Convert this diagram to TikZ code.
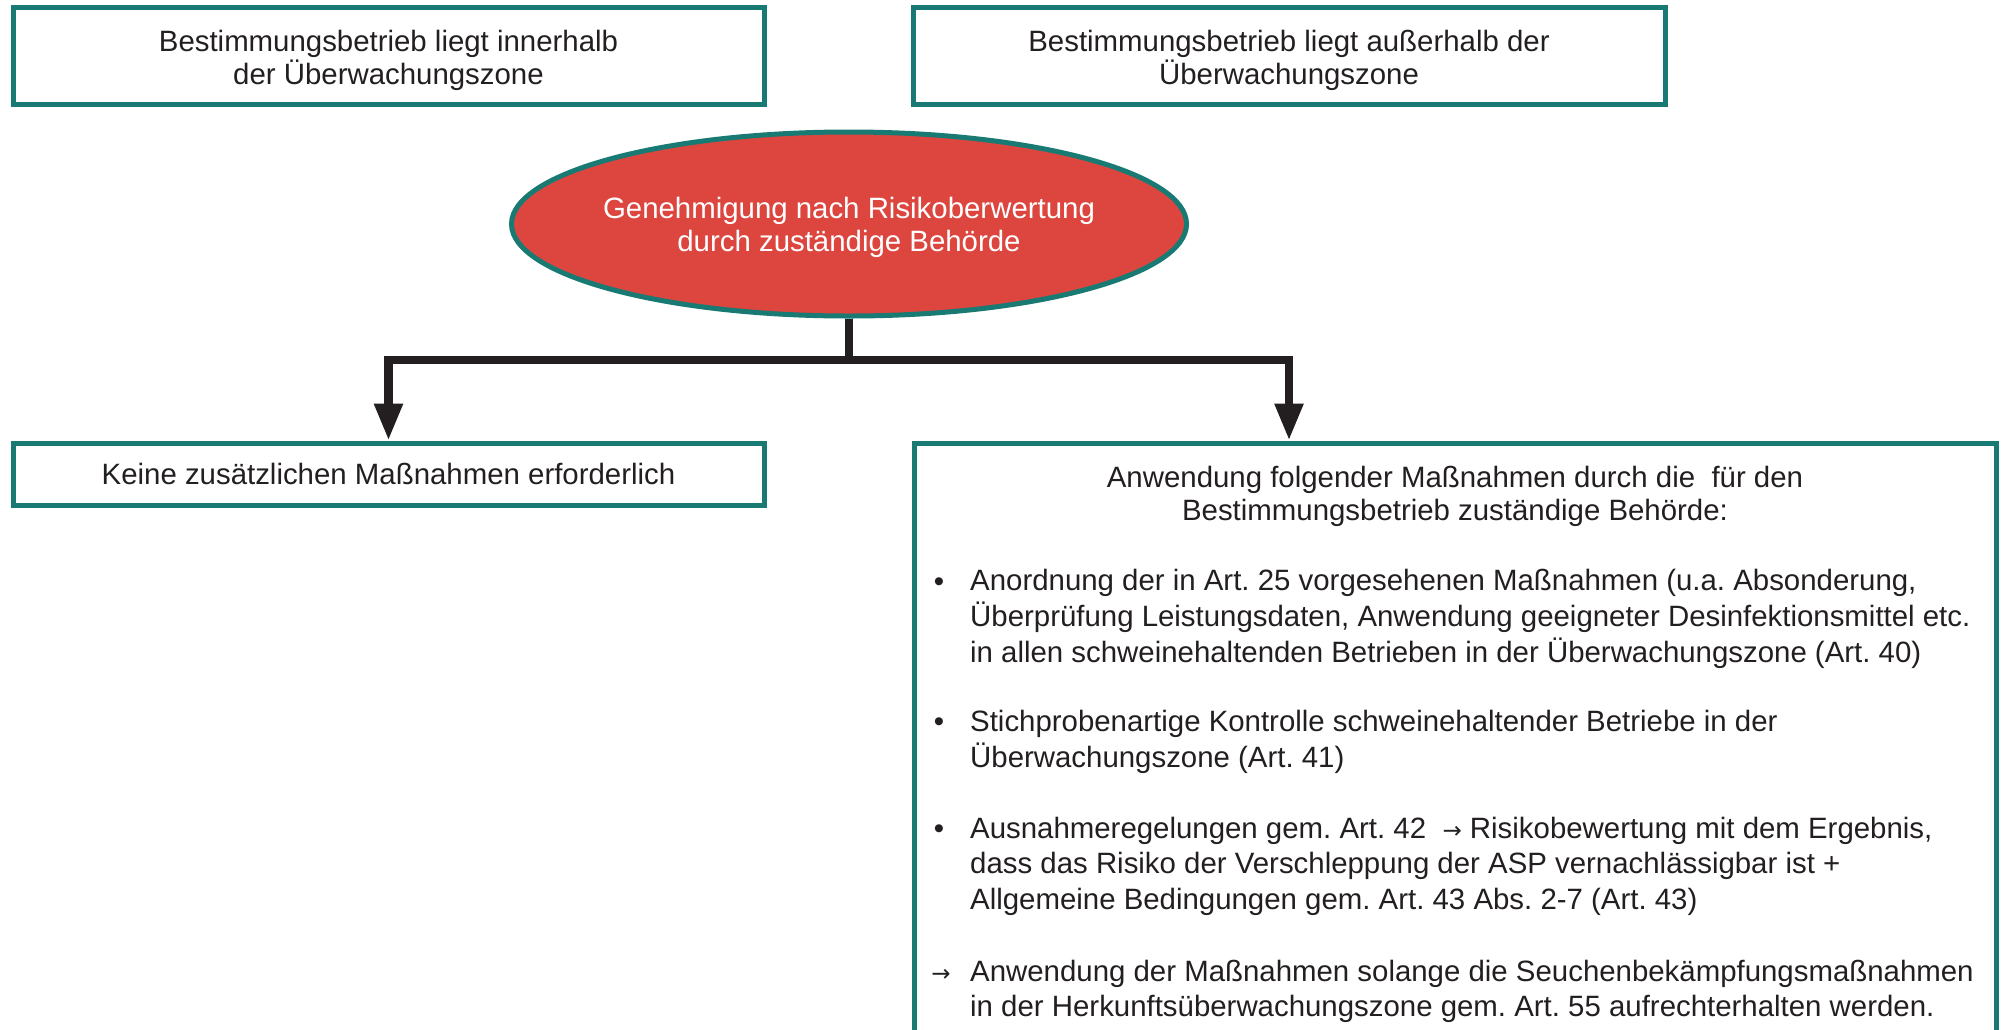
\documentclass[tikz,border=0pt]{standalone}
\usepackage{fontspec}
\setmainfont{Liberation Sans}
\newfontfamily\arrowfont{DejaVu Sans}
\usetikzlibrary{arrows.meta,shapes.geometric}
\definecolor{tealb}{RGB}{24,122,114}
\definecolor{redfill}{RGB}{220,70,63}
\definecolor{ink}{RGB}{35,31,32}
\newcommand\smallarr{{\arrowfont\fontsize{23}{23}\selectfont →}}
\newcommand\diagfont[1]{\frenchspacing\fontsize{29.4}{#1}\selectfont\lineskiplimit=-50pt\relax}
\frenchspacing
\begin{document}
\begin{tikzpicture}[x=1pt,y=-1pt,
  box/.style={draw=tealb,line width=5pt,fill=white,rectangle,inner sep=0pt},
  oval/.style={draw=tealb,line width=5pt,fill=redfill,ellipse,inner sep=0pt},
  txtA/.style={text=ink,inner sep=0pt,align=center,font=\diagfont{33.3}},
  itemtxt/.style={text=ink,inner sep=0pt,align=left,anchor=north west,font=\diagfont{35.8}},
  bulletmk/.style={text=ink,inner sep=0pt,anchor=base,font=\diagfont{35}},
  conn/.style={draw=ink,line width=8.5pt,line join=miter},
  arr/.style={conn,-{Triangle[width=27pt,length=37pt]}}
]
\useasboundingbox (0,0) rectangle (2004,1029);
\clip (0,0) rectangle (2004,1029);
\fill[white] (0,0) rectangle (2004,1029);

% boxes
\node[box,minimum width=751,minimum height=97] (b1) at (388.5,56) {};
\node[box,minimum width=752,minimum height=97] (b2) at (1289,56) {};
\node[box,minimum width=751,minimum height=62] (b3) at (388.5,474) {};
\node[box,minimum width=1082,minimum height=757] (b4) at (1455,821.5) {};
\node[oval,minimum width=675,minimum height=184] (ell) at (849,224) {};

% texts (anchor north = first baseline - 0.7*baselineskip)
\node[txtA,anchor=north] (t1) at (388.5,27.5) {\strut Bestimmungsbetrieb liegt innerhalb\\der Überwachungszone};
\node[txtA,anchor=north] (t2) at (1289,27.5) {\strut Bestimmungsbetrieb liegt außerhalb der\\Überwachungszone};
\node[txtA,anchor=north,text=white] (te) at (849,194.8) {\strut Genehmigung nach Risikoberwertung\\durch zuständige Behörde};
\node[bulletmk] (t3) at (388.5,484.3) {Keine zusätzlichen Maßnahmen erforderlich};
\node[txtA,anchor=north] (th) at (1455,463.6) {\strut Anwendung folgender Maßnahmen durch die\ \ für den\\Bestimmungsbetrieb zuständige Behörde:};

\node[itemtxt] (i1) at (970,565.4) {\strut Anordnung der in Art. 25 vorgesehenen Maßnahmen (u.a. Absonderung,\\Überprüfung Leistungsdaten, Anwendung geeigneter Desinfektionsmittel etc.\\in allen schweinehaltenden Betrieben in der Überwachungszone (Art. 40)};
\node[itemtxt] (i2) at (970,706.4) {\strut Stichprobenartige Kontrolle schweinehaltender Betriebe in der\\Überwachungszone (Art. 41)};
\node[itemtxt] (i3) at (970,812.9) {\strut Ausnahmeregelungen gem. Art. 42\ \ \smallarr\ Risikobewertung mit dem Ergebnis,\\dass das Risiko der Verschleppung der ASP vernachlässigbar ist +\\Allgemeine Bedingungen gem. Art. 43 Abs. 2-7 (Art. 43)};
\node[itemtxt] (i4) at (970,955.9) {\strut Anwendung der Maßnahmen solange die Seuchenbekämpfungsmaßnahmen\\in der Herkunftsüberwachungszone gem. Art. 55 aufrechterhalten werden.};

\node[bulletmk] (m1) at (939,591) {•};
\node[bulletmk] (m2) at (939,731.5) {•};
\node[bulletmk] (m3) at (939,838) {•};
\node[bulletmk] (m4) at (941,981) {\smallarr};

% connectors
\coordinate (j) at (849,360);
\draw[conn] (ell.south) -- (j);
\draw[arr] (j) -| (b3.north);
\draw[arr] (j) -| (b2.south |- b4.north);
\end{tikzpicture}
\end{document}
